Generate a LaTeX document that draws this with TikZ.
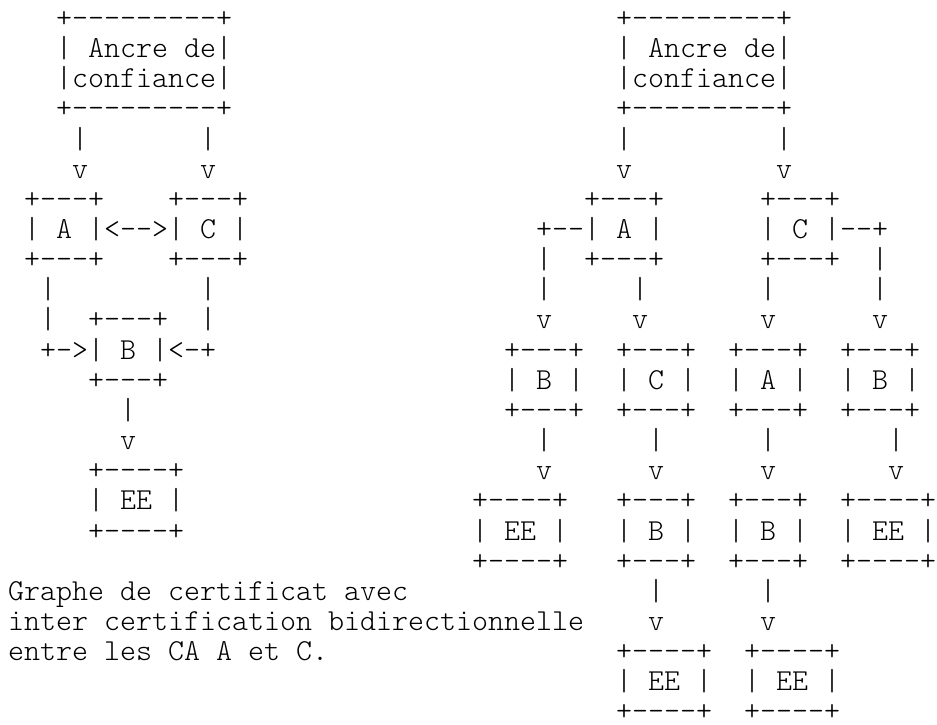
\documentclass[tikz,border=0pt]{standalone}
\usepackage{fontspec}
\setmonofont{lmmonolt10-regular}[Extension=.otf]
\begin{document}
\begin{tikzpicture}[x=1pt, y=1pt,
    ascii/.style={font=\ttfamily\fontsize{30.47}{30.15}\selectfont, inner sep=0pt, outer sep=0pt, anchor=base west}]
	\def\cw{16} \def\lh{30.15} \def\xo{8.2} \def\yo{726.7}
	\useasboundingbox[fill=white] (0,0) rectangle (937,724);
	\foreach \col/\row/\txt in {
		3/1/{+---------+}, 38/1/{+---------+},
		3/2/{| Ancre de|}, 38/2/{| Ancre de|},
		3/3/{|confiance|}, 38/3/{|confiance|},
		3/4/{+---------+}, 38/4/{+---------+},
		4/5/{|}, 12/5/{|}, 38/5/{|}, 48/5/{|},
		4/6/{v}, 12/6/{v}, 38/6/{v}, 48/6/{v},
		1/7/{+---+}, 10/7/{+---+}, 36/7/{+---+}, 47/7/{+---+},
		1/8/{| A |<-->| C |}, 33/8/{+--| A |}, 47/8/{| C |--+},
		1/9/{+---+}, 10/9/{+---+}, 33/9/{|}, 36/9/{+---+}, 47/9/{+---+}, 54/9/{|},
		2/10/{|}, 12/10/{|}, 33/10/{|}, 39/10/{|}, 47/10/{|}, 54/10/{|},
		2/11/{|}, 5/11/{+---+}, 12/11/{|}, 33/11/{v}, 39/11/{v}, 47/11/{v}, 54/11/{v},
		2/12/{+->| B |<-+}, 31/12/{+---+}, 38/12/{+---+}, 45/12/{+---+}, 52/12/{+---+},
		5/13/{+---+}, 31/13/{| B |}, 38/13/{| C |}, 45/13/{| A |}, 52/13/{| B |},
		7/14/{|}, 31/14/{+---+}, 38/14/{+---+}, 45/14/{+---+}, 52/14/{+---+},
		7/15/{v}, 33/15/{|}, 40/15/{|}, 47/15/{|}, 55/15/{|},
		5/16/{+----+}, 33/16/{v}, 40/16/{v}, 47/16/{v}, 55/16/{v},
		5/17/{| EE |}, 29/17/{+----+}, 38/17/{+---+}, 45/17/{+---+}, 52/17/{+----+},
		5/18/{+----+}, 29/18/{| EE |}, 38/18/{| B |}, 45/18/{| B |}, 52/18/{| EE |},
		29/19/{+----+}, 38/19/{+---+}, 45/19/{+---+}, 52/19/{+----+},
		0/20/{Graphe de certificat avec}, 40/20/{|}, 47/20/{|},
		0/21/{inter certification bidirectionnelle}, 40/21/{v}, 47/21/{v},
		0/22/{entre les CA A et C.}, 38/22/{+----+}, 46/22/{+----+},
		38/23/{| EE |}, 46/23/{| EE |},
		38/24/{+----+}, 46/24/{+----+}}
		\node[ascii] (l\row c\col) at ({\xo+\col*\cw},{\yo-\row*\lh}) {\txt};
\end{tikzpicture}
\end{document}
